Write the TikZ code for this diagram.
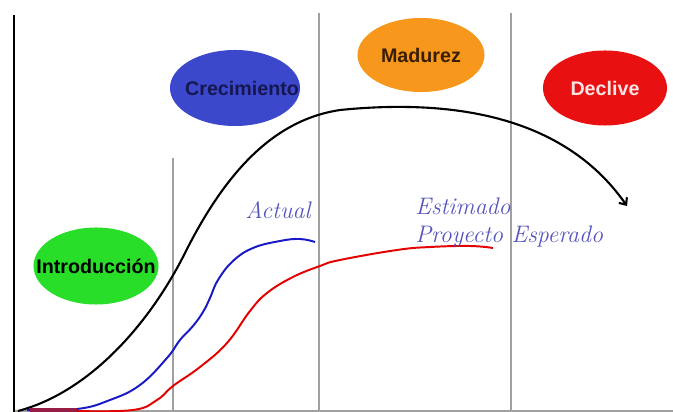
\documentclass[tikz,border=0pt]{standalone}
\usepackage{fontspec}
\newfontfamily\phasefont{Liberation Sans}
\usetikzlibrary{shapes.geometric, arrows.meta}

\definecolor{growblue}{RGB}{60,72,204}
\definecolor{matureorange}{RGB}{247,152,28}
\definecolor{declinered}{RGB}{232,16,16}
\definecolor{introgreen}{RGB}{40,222,40}
\definecolor{labelblue}{RGB}{85,85,190}
\definecolor{gridgrey}{RGB}{160,160,160}
\definecolor{overlapred}{RGB}{150,30,70}

\begin{document}
\begin{tikzpicture}[x=0.025cm, y=-0.025cm,
    phase/.style={ellipse, inner sep=0pt, font=\phasefont\fontsize{14}{16}\selectfont\bfseries},
    stagelabel/.style={font=\fontsize{17}{19}\selectfont\itshape, text=labelblue, inner sep=0pt, anchor=west}]

    \useasboundingbox (0,0) rectangle (673,412);

    % Axes and stage borders
    \draw[gridgrey, line width=0.8pt] (14,411) -- (673,411);
    \draw[line width=2pt] (14,15) -- (14,412);
    \draw[gridgrey, line width=1.2pt] (173,158) -- (173,412);
    \draw[gridgrey, line width=1.2pt] (319,13) -- (319,412);
    \draw[gridgrey, line width=1.2pt] (511,13) -- (511,412);

    % Stage ellipses
    \node (intro) [phase, fill=introgreen, minimum width=3.125cm, minimum height=1.925cm] at (96,266) {\makebox[0pt]{Introducción}};
    \node (grow) [phase, fill=growblue, text={rgb,255:red,22;green,22;blue,80}, minimum width=3.25cm, minimum height=1.9cm] at (235,88) {\makebox[0pt]{\hspace{10pt}Crecimiento}};
    \node (mature) [phase, fill=matureorange, text={rgb,255:red,55;green,30;blue,5}, minimum width=3.175cm, minimum height=1.85cm] at (421,55) {\makebox[0pt]{Madurez}};
    \node (decline) [phase, fill=declinered, text={rgb,255:red,250;green,228;blue,228}, minimum width=3.1cm, minimum height=1.875cm] at (605,88) {\makebox[0pt]{Declive}};

    % Curves
    \draw[line width=1.5pt, -{Straight Barb[length=4pt, width=7pt]}] (18,411) .. controls (90,392) and (150,323) .. (185,253) .. controls (230,163) and (280,119) .. (340,110) .. controls (440,100) and (560,110) .. (627,206);
    \draw[blue!75!black!90, line width=1.4pt] plot[smooth, tension=0.7] coordinates {(27,410) (77,409) (110,400) (140,385) (167,358) (180,340) (193,326) (203,312) (210,298) (218,280) (233,261) (253,248) (280,241) (300,239) (315,242)};
    \draw[red!90!black, line width=1.4pt] plot[smooth, tension=0.7] coordinates {(77,411) (133,410) (157,400) (173,386) (200,367) (227,343) (250,311) (267,293) (293,277) (320,266) (340,260) (397,250) (430,247) (470,246) (493,248)};
    \draw[overlapred, line width=2.2pt] (30,410) -- (77,410);

    % Curve labels
    \node (actual) [stagelabel] at (245,210) {Actual};
    \node (estimated) [stagelabel] at (415,206) {Estimado};
    \node (expected) [stagelabel] at (415,237) {Proyecto Esperado};

\end{tikzpicture}
\end{document}
